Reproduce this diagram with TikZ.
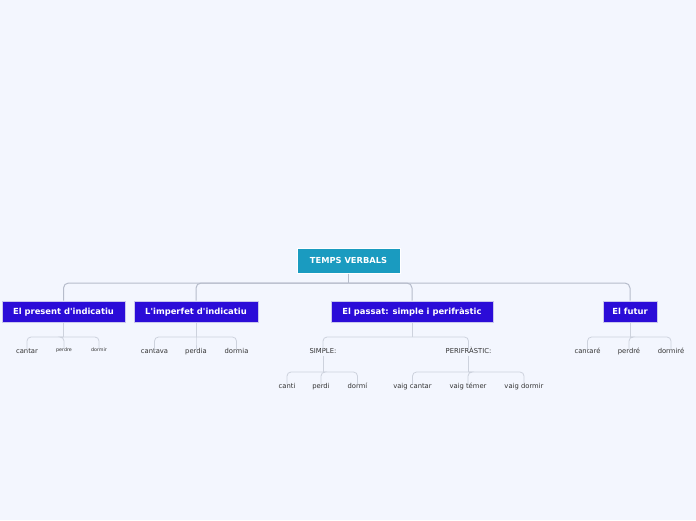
\documentclass[tikz,border=0pt]{standalone}
\usepackage{fontspec}
\setmainfont{DejaVu Sans}
\definecolor{bg}{HTML}{F3F6FE}
\definecolor{rootc}{HTML}{1A9BC0}
\definecolor{mainc}{HTML}{2B0CD8}
\definecolor{mainbd}{HTML}{C9C6EE}
\definecolor{linec}{HTML}{B6BCCB}
\definecolor{leafline}{HTML}{CDD2DD}
\definecolor{txt}{HTML}{333333}
\tikzset{
 rootbox/.style={fill=rootc, draw=white, line width=1pt, text=white, font=\bfseries\fontsize{8.3}{10}\selectfont, minimum width=103pt, minimum height=25pt, inner sep=0pt, text height=6pt, text depth=0pt},
 mainbox/.style={fill=mainc, draw=mainbd, line width=1pt, text=white, font=\bfseries\fontsize{8.4}{10}\selectfont, minimum height=21pt, inner sep=0pt, text height=6.2pt, text depth=0pt},
 leaf/.style={text=txt, font=\fontsize{6.8}{8}\selectfont, inner sep=1pt, text height=5pt, text depth=0.6pt},
 tinyleaf/.style={text=txt, font=\fontsize{4.8}{6}\selectfont, inner sep=1pt, text height=3.6pt, text depth=0.4pt},
 conn/.style={draw=linec, line width=1pt, rounded corners=5pt},
 thinconn/.style={draw=leafline, line width=0.8pt, rounded corners=4pt},
}
\begin{document}
\begin{tikzpicture}[x=1pt,y=-1pt]
\fill[bg] (0,0) rectangle (696,520);
\useasboundingbox (0,0) rectangle (696,520);

% root
\node[rootbox] (root) at (348.5,260.5) {TEMPS VERBALS};

% main boxes
\node[mainbox, minimum width=123pt] (pres) at (63.5,311.5) {El present d\textquotesingle indicatiu};
\node[mainbox, minimum width=124pt] (imp) at (196,311.5) {L\textquotesingle imperfet d\textquotesingle indicatiu};
\node[mainbox, minimum width=162pt] (pas) at (412,311.5) {El passat: simple i perifràstic};
\node[mainbox, minimum width=54pt] (fut) at (630,311.5) {El futur};

% root connectors
\draw[conn] (root.south) -- (348.5,283) coordinate (j0);
\draw[conn] (j0) -| (pres.north);
\draw[conn] (j0) -| (imp.north);
\draw[conn] (j0) -| (pas.north);
\draw[conn] (j0) -| (fut.north);

% present leaves
\node[leaf] (p1) at (27,351.5) {cantar};
\node[tinyleaf] (p2) at (64,350) {perdre};
\node[tinyleaf] (p3) at (99,350) {dormir};
\coordinate (pj) at (63.5,337);
\draw[thinconn] (pres.south) -- (pj);
\foreach \n in {p1,p2,p3} \draw[thinconn] (pj) -| ([yshift=-2pt]\n.north);

% imperfet leaves
\node[leaf] (i1) at (154.5,351.5) {cantava};
\node[leaf] (i2) at (196,351.5) {perdia};
\node[leaf] (i3) at (236.5,351.5) {dormia};
\coordinate (ij) at (196,337);
\draw[thinconn] (imp.south) -- (ij);
\foreach \n in {i1,i2,i3} \draw[thinconn] (ij) -| ([yshift=-2pt]\n.north);

% passat
\node[leaf] (s) at (323,351.5) {SIMPLE:};
\node[leaf] (f) at (468.5,351.5) {PERIFRÀSTIC:};
\coordinate (aj) at (412,337);
\draw[thinconn] (pas.south) -- (aj);
\foreach \n in {s,f} \draw[thinconn] (aj) -| ([yshift=-2pt]\n.north);

\node[leaf] (s1) at (287,386) {canti};
\node[leaf] (s2) at (321,386) {perdi};
\node[leaf] (s3) at (357.5,386) {dormí};
\coordinate (sj) at (323,372);
\draw[thinconn] (s.south) -- (sj);
\foreach \n in {s1,s2,s3} \draw[thinconn] (sj) -| ([yshift=-2pt]\n.north);

\node[leaf] (f1) at (412.5,386) {vaig cantar};
\node[leaf] (f2) at (468,386) {vaig témer};
\node[leaf] (f3) at (524,386) {vaig dormir};
\coordinate (fj) at (468.5,372);
\draw[thinconn] (f.south) -- (fj);
\foreach \n in {f1,f2,f3} \draw[thinconn] (fj) -| ([yshift=-2pt]\n.north);

% futur leaves
\node[leaf] (u1) at (587.5,351.5) {cantaré};
\node[leaf] (u2) at (629,351.5) {perdré};
\node[leaf] (u3) at (671,351.5) {dormiré};
\coordinate (uj) at (630,337);
\draw[thinconn] (fut.south) -- (uj);
\foreach \n in {u1,u2,u3} \draw[thinconn] (uj) -| ([yshift=-2pt]\n.north);
\end{tikzpicture}
\end{document}
